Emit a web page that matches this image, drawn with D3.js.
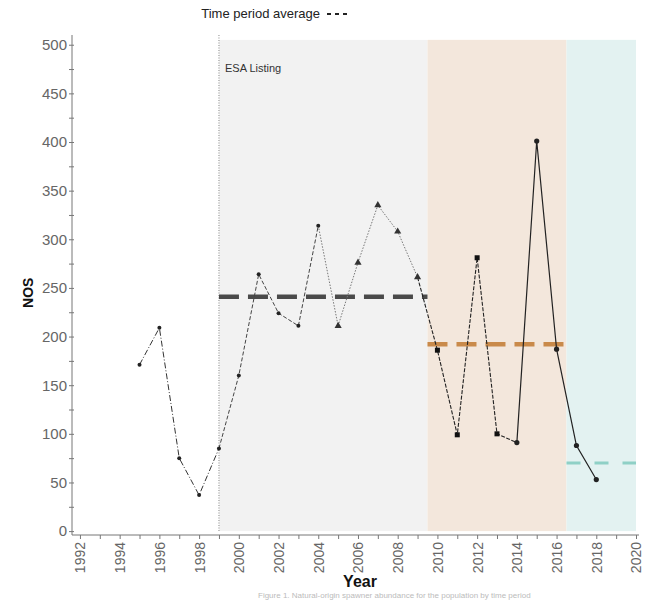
<!DOCTYPE html>
<html>
<head>
<meta charset="utf-8">
<script src="https://cdn.jsdelivr.net/npm/d3@7"></script>
<style>
body { margin:0; background:#fff; }
svg { font-family: "Liberation Sans", Arial, sans-serif; }
.axis text { fill:#666; }
.axis line, .axis path { stroke:#777; }
</style>
</head>
<body>
<div id="chart"></div>
<script>
// data
var years  = [1995,1996,1997,1998,1999,2000,2001,2002,2003,2004,2005,2006,2007,2008,2009,2010,2011,2012,2013,2014,2015,2016,2017,2018];
var nos    = [171,209,75,37,85,160,264,224,211,314,211,276,335,308,261,186,99,281,100,91,401,187,88,53];

var periodStart  = [1999, 2009.5, 2016.5];
var periodEnd    = [2009.5, 2016.5, 2020];
var periodAvg    = [241, 192, 70];

var xTicks = d3.range(1992, 2021, 2);
var yTicks = d3.range(0, 501, 50);

var ch = {
	padding: {l:72, r:18, t:35, b:65},
	w: 656,
	h: 600,
	svg: null
};

function drawChart() {
	ch.svg = d3.select('#chart').append('svg')
				.attr('width', ch.w)
				.attr('height', ch.h);

	var x = d3.scaleLinear()
				.domain([1991.6, 2020.1])
				.range([ch.padding.l, ch.w - ch.padding.r]);

	var y = d3.scaleLinear()
				.domain([-4, 510])
				.range([ch.h - ch.padding.b, ch.padding.t]);

	// shaded periods
	var shade = ['#f2f2f2', '#f3e7dc', '#e3f2f1'];
	ch.svg.append('g')
		.selectAll('rect')
		.data(periodStart)
		.enter()
		.append('rect')
			.attr('x', d => x(d))
			.attr('width', (d,i) => x(periodEnd[i]) - x(d))
			.attr('y', y(505))
			.attr('height', y(0) - y(505))
			.attr('fill', (d,i) => shade[i]);

	// ESA listing line
	ch.svg.append('line')
		.attr('x1', x(1999)).attr('x2', x(1999))
		.attr('y1', y(510)).attr('y2', y(0))
		.attr('stroke', '#888')
		.attr('stroke-width', 1)
		.attr('stroke-dasharray', '1,1.5');

	ch.svg.append('text')
		.attr('x', x(1999) + 6)
		.attr('y', y(472))
		.attr('font-size', 11)
		.attr('fill', '#333')
		.text('ESA Listing');

	// period averages
	var avgColor = ['#4a4a4a', '#c98a4a', '#8fd0c6'];
	ch.svg.append('g')
		.selectAll('line')
		.data(periodAvg)
		.enter()
		.append('line')
			.attr('x1', (d,i) => x(periodStart[i]))
			.attr('x2', (d,i) => x(periodEnd[i]))
			.attr('y1', d => y(d))
			.attr('y2', d => y(d))
			.attr('stroke', (d,i) => avgColor[i])
			.attr('stroke-width', (d,i) => i == 2 ? 3 : 4.5)
			.attr('stroke-dasharray', (d,i) => i == 2 ? '14,14' : '20,9');

	// line segments with their own styles
	var pts = years.map((yr,i) => ({yr: yr, v: nos[i]}));
	var segs = [
		{from:1995, to:1999, dash:'6,2,1,2', color:'#333', w:1},
		{from:1999, to:2004, dash:'4,2', color:'#444', w:1},
		{from:2004, to:2009, dash:'1.5,1.5', color:'#777', w:1},
		{from:2009, to:2014, dash:'4,1.5', color:'#222', w:1.1},
		{from:2014, to:2018, dash:null, color:'#222', w:1.2}
	];
	var line = d3.line().x(d => x(d.yr)).y(d => y(d.v));

	ch.svg.append('g')
		.selectAll('path')
		.data(segs)
		.enter()
		.append('path')
			.attr('fill', 'none')
			.attr('stroke', d => d.color)
			.attr('stroke-width', d => d.w)
			.attr('stroke-dasharray', d => d.dash)
			.attr('d', d => line(pts.filter(p => p.yr >= d.from && p.yr <= d.to)));

	// markers
	var mk = ch.svg.append('g');
	pts.forEach(function(p) {
		var cx = x(p.yr), cy = y(p.v);
		if (p.yr >= 2005 && p.yr <= 2009) {
			mk.append('path')
				.attr('d', d3.symbol(d3.symbolTriangle, 22)())
				.attr('transform', 'translate(' + cx + ',' + cy + ')')
				.attr('fill', '#333');
		} else if (p.yr >= 2010 && p.yr <= 2013) {
			mk.append('rect')
				.attr('x', cx - 2.5).attr('y', cy - 2.5)
				.attr('width', 5).attr('height', 5)
				.attr('fill', '#111');
		} else {
			mk.append('circle')
				.attr('cx', cx).attr('cy', cy)
				.attr('r', p.yr >= 2014 ? 2.6 : 2)
				.attr('fill', '#222');
		}
	});

	// axes
	var xAxis = d3.axisBottom(x)
					.tickValues(d3.range(1992, 2021, 1))
					.tickSize(4)
					.tickFormat(d => xTicks.indexOf(d) >= 0 ? d : '');

	var gx = ch.svg.append('g')
			.attr('class', 'axis x')
			.attr('transform', 'translate(0,' + y(-4) + ')')
		.call(xAxis);
	gx.select('.domain').attr('d', 'M' + ch.padding.l + ',0H' + (x(2020) + 3));
	gx.selectAll('text')
		.attr('font-size', 14)
		.attr('transform', 'rotate(-90)')
		.attr('text-anchor', 'end')
		.attr('x', -7)
		.attr('y', 0)
		.attr('dy', '0.35em');

	var yAxis = d3.axisLeft(y)
					.tickValues(d3.range(0, 501, 25))
					.tickSize(4)
					.tickFormat(d => yTicks.indexOf(d) >= 0 ? d : '');

	var gy = ch.svg.append('g')
			.attr('class', 'axis y')
			.attr('transform', 'translate(' + ch.padding.l + ',0)')
		.call(yAxis);
	gy.selectAll('.tick line').attr('x2', 2).attr('x1', -3);
	gy.selectAll('text').attr('font-size', 15).attr('x', -5);
	gy.select('.domain').attr('d', 'M0,' + (ch.padding.t) + 'V' + y(-4));

	// axis titles
	ch.svg.append('text')
		.attr('transform', 'translate(33,' + y(245) + ') rotate(-90)')
		.attr('text-anchor', 'middle')
		.attr('font-size', 14)
		.attr('font-weight', 'bold')
		.attr('fill', '#111')
		.text('NOS');

	ch.svg.append('text')
		.attr('x', 360)
		.attr('y', 587)
		.attr('text-anchor', 'middle')
		.attr('font-size', 16)
		.attr('font-weight', 'bold')
		.attr('fill', '#111')
		.text('Year');

	// legend
	ch.svg.append('text')
		.attr('x', 320)
		.attr('y', 18)
		.attr('text-anchor', 'end')
		.attr('font-size', 13)
		.attr('fill', '#222')
		.text('Time period average');
	ch.svg.append('line')
		.attr('x1', 327).attr('x2', 347)
		.attr('y1', 14).attr('y2', 14)
		.attr('stroke', '#222')
		.attr('stroke-width', 2)
		.attr('stroke-dasharray', '4,4');

	// caption along the bottom edge
	ch.svg.append('text')
		.attr('x', 258)
		.attr('y', 598)
		.attr('font-size', 8)
		.attr('fill', '#bbb')
		.text('Figure 1. Natural-origin spawner abundance for the population by time period');
}

drawChart();
</script>
</body>
</html>
